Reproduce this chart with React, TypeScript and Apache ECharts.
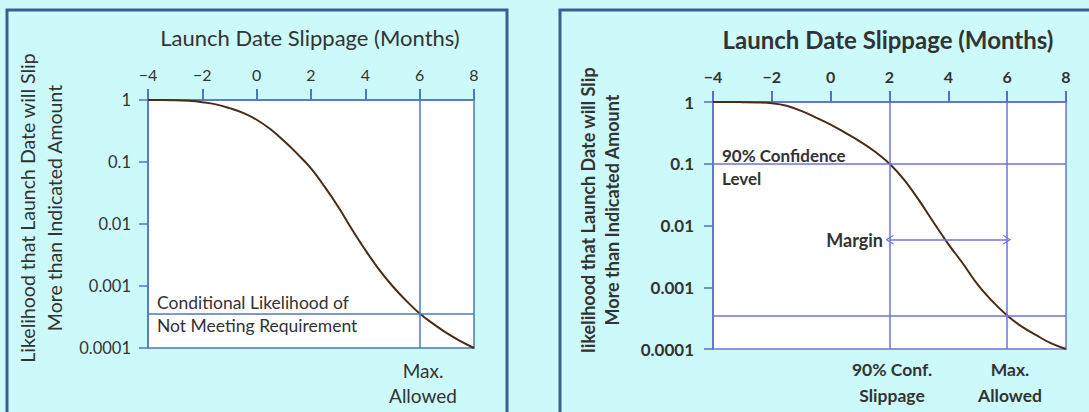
import React, { useEffect, useRef } from "react";
import * as echarts from "echarts";

// Launch date slippage in months (x) and likelihood of slipping more (y)
const MONTHS = [-4, -3.5, -3, -2.5, -2, -1.5, -1, -0.5, 0, 0.5, 1, 1.5, 2, 2.5, 3, 3.5, 4, 4.5, 5, 5.5, 6, 6.5, 7, 7.5, 8];
const LEFT_LIKELIHOOD = [1.0, 1.0, 0.995, 0.97, 0.92, 0.85, 0.74, 0.62, 0.48, 0.34, 0.22, 0.135, 0.079, 0.04, 0.019, 0.0083, 0.0038, 0.00186, 0.001, 0.00058, 0.00036, 0.000245, 0.000174, 0.000129, 0.0001];
const RIGHT_LIKELIHOOD = [1.0, 1.0, 0.995, 0.985, 0.955, 0.87, 0.72, 0.56, 0.43, 0.316, 0.229, 0.158, 0.1, 0.055, 0.0257, 0.0112, 0.005, 0.0024, 0.0011, 0.00059, 0.00035, 0.00023, 0.000166, 0.000123, 0.0001];

const Y_TICK_LABELS = ["1", "0.1", "0.01", "0.001", "0.0001"];

const X_MIN = -4;
const X_MAX = 8;
const MAX_ALLOWED = 6;
const CONF_SLIPPAGE = 2;
const CONF_LEVEL = 0.1;
const LEFT_REQ_LEVEL = 0.00036;
const RIGHT_REQ_LEVEL = 0.00035;
const MARGIN_LEVEL = 0.0059;

const BG = "#ccfafa";
const PANEL = "#3d5f8f";
const LBLUE = "#4a78c2";
const RBLUE = "#6f74d8";
const CURVE = "#4a2c14";
const TXT = "#333333";
const FONT = "Lato";

const xFmt = (v: number) => (v < 0 ? "\u2212" + Math.abs(v) : String(v));
const yFmt = (v: number) => {
  const e = Math.round(-Math.log10(v));
  return Y_TICK_LABELS[e] ?? "";
};

const CHEVRON = "path://M0,10 L5,0 L10,10 L8.6,10 L5,2.8 L1.4,10 Z";

const hLine = (v: number) => [{ coord: [X_MIN, v] }, { coord: [X_MAX, v] }];
const vLine = (x: number) => [{ coord: [x, 1] }, { coord: [x, 0.0001] }];

export default function App() {
  const ref = useRef<HTMLDivElement>(null);
  useEffect(() => {
    if (!ref.current) return;
    const chart = echarts.init(ref.current, undefined, { renderer: "svg" });

    const mkX = (idx: number, color: string, bold: boolean) => ({
      type: "value",
      gridIndex: idx,
      position: "top",
      min: X_MIN,
      max: X_MAX,
      interval: 2,
      axisLine: { show: true, onZero: false, lineStyle: { color, width: 1.5 } },
      axisTick: { show: true, length: 11, lineStyle: { color, width: 2 } },
      axisLabel: {
        formatter: xFmt,
        margin: 18,
        fontSize: 16,
        fontFamily: FONT,
        fontWeight: bold ? "bold" : "normal",
        color: TXT,
      },
      splitLine: { show: false },
    });
    const mkY = (idx: number, color: string, bold: boolean, margin: number, size: number) => ({
      type: "log",
      logBase: 10,
      gridIndex: idx,
      min: 0.0001,
      max: 1,
      axisLine: { show: true, onZero: false, lineStyle: { color, width: 1.5 } },
      axisTick: { show: true, length: 9, lineStyle: { color, width: 1.5 } },
      axisLabel: {
        formatter: yFmt,
        margin,
        fontSize: size,
        fontFamily: FONT,
        fontWeight: bold ? "bold" : "normal",
        color: TXT,
      },
      splitLine: { show: false },
      minorTick: { show: false },
    });

    const txt = (text: string, x: number, y: number, o: any = {}) => ({
      type: "text",
      x,
      y,
      rotation: o.rotation ?? 0,
      style: {
        text,
        fill: o.fill ?? TXT,
        font: `${o.bold ? "bold " : ""}${o.size ?? 16}px ${FONT}`,
        align: o.align ?? "center",
        verticalAlign: "middle",
        lineHeight: o.lineHeight ?? 24,
      },
    });

    chart.setOption({
      animation: false,
      backgroundColor: BG,
      grid: [
        { left: 148, top: 100, width: 326, height: 248, show: true, backgroundColor: "#ffffff", borderColor: LBLUE, borderWidth: 1.5 },
        { left: 713, top: 102, width: 353, height: 247, show: true, backgroundColor: "#ffffff", borderColor: RBLUE, borderWidth: 1.5 },
      ],
      xAxis: [mkX(0, LBLUE, false), mkX(1, "#5a6cc4", true)],
      yAxis: [mkY(0, LBLUE, false, 17, 16.5), mkY(1, "#5a6cc4", true, 19, 17)],
      series: [
        {
          type: "line",
          xAxisIndex: 0,
          yAxisIndex: 0,
          data: MONTHS.map((m, i) => [m, LEFT_LIKELIHOOD[i]]),
          showSymbol: false,
          smooth: 0.4,
          lineStyle: { color: CURVE, width: 2 },
          markLine: {
            silent: true,
            symbol: "none",
            label: { show: false },
            lineStyle: { color: LBLUE, width: 1.5, type: "solid" },
            data: [vLine(MAX_ALLOWED), hLine(LEFT_REQ_LEVEL)],
          },
          z: 3,
        },
        {
          type: "line",
          xAxisIndex: 1,
          yAxisIndex: 1,
          data: MONTHS.map((m, i) => [m, RIGHT_LIKELIHOOD[i]]),
          showSymbol: false,
          smooth: 0.4,
          lineStyle: { color: CURVE, width: 2 },
          markLine: {
            silent: true,
            symbol: "none",
            label: { show: false },
            lineStyle: { color: RBLUE, width: 1.5, type: "solid" },
            data: [
              vLine(CONF_SLIPPAGE),
              vLine(MAX_ALLOWED),
              hLine(CONF_LEVEL),
              hLine(RIGHT_REQ_LEVEL),
              [
                { coord: [CONF_SLIPPAGE, MARGIN_LEVEL], symbol: CHEVRON, symbolSize: [10, 8] },
                { coord: [MAX_ALLOWED, MARGIN_LEVEL], symbol: CHEVRON, symbolSize: [10, 8] },
              ],
            ],
          },
          z: 3,
        },
      ],
      graphic: [
        { type: "rect", shape: { x: 7, y: 10, width: 500, height: 420 }, style: { fill: "none", stroke: PANEL, lineWidth: 3 } },
        { type: "rect", shape: { x: 560, y: 10, width: 560, height: 420 }, style: { fill: "none", stroke: PANEL, lineWidth: 3 } },
        // left panel texts
        txt("Launch Date Slippage (Months)", 310, 37, { size: 22 }),
        txt("Likelihood that Launch Date will Slip\nMore than Indicated Amount", 41, 208, { size: 19.5, rotation: Math.PI / 2, lineHeight: 27 }),
        txt("Conditional Likelihood of", 157, 302, { size: 17.5, align: "left" }),
        txt("Not Meeting Requirement", 157, 325, { size: 17.5, align: "left" }),
        txt("Max.", 423, 370, { size: 19 }),
        txt("Allowed", 423, 395, { size: 19 }),
        // right panel texts
        txt("Launch Date Slippage (Months)", 888, 39, { size: 24, bold: true }),
        txt("likelihood that Launch Date will Slip\nMore than Indicated Amount", 600, 210, { size: 18, bold: true, rotation: Math.PI / 2, lineHeight: 24 }),
        txt("90% Confidence", 722, 155, { size: 17, bold: true, align: "left" }),
        txt("Level", 722, 178, { size: 17, bold: true, align: "left" }),
        txt("Margin", 883, 240, { size: 18, bold: true, align: "right" }),
        txt("90% Conf.", 892, 369, { size: 17.5, bold: true }),
        txt("Slippage", 892, 395, { size: 17.5, bold: true }),
        txt("Max.", 1010, 369, { size: 17.5, bold: true }),
        txt("Allowed", 1010, 395, { size: 17.5, bold: true }),
      ],
    });
    return () => chart.dispose();
  }, []);
  return <div ref={ref} style={{ position: "absolute", left: 0, top: 0, width: 1089, height: 412 }} />;
}
